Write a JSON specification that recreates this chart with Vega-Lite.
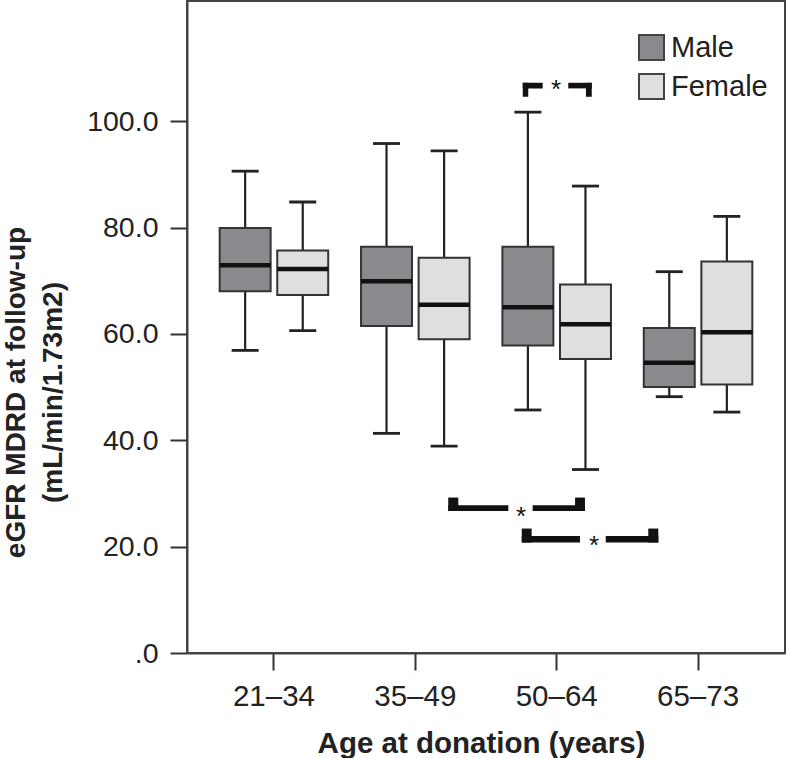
{
  "$schema": "https://vega.github.io/schema/vega-lite/v6.json",
  "width": 598,
  "height": 652,
  "autosize": {"type": "none"},
  "padding": {"left": 187, "top": 1, "right": 2, "bottom": 105},
  "config": {
    "font": "Liberation Sans",
    "view": {"stroke": "#444", "strokeWidth": 2}
  },
  "datasets": {
    "boxes": [
      {"age": "21–34", "sex": "Male", "lo": 56.9, "q1": 68.0, "med": 72.9, "q3": 79.9, "hi": 90.6},
      {"age": "21–34", "sex": "Female", "lo": 60.6, "q1": 67.3, "med": 72.2, "q3": 75.7, "hi": 84.8},
      {"age": "35–49", "sex": "Male", "lo": 41.3, "q1": 61.5, "med": 69.9, "q3": 76.4, "hi": 95.8},
      {"age": "35–49", "sex": "Female", "lo": 38.9, "q1": 59.0, "med": 65.5, "q3": 74.3, "hi": 94.4},
      {"age": "50–64", "sex": "Male", "lo": 45.7, "q1": 57.8, "med": 65.0, "q3": 76.4, "hi": 101.7},
      {"age": "50–64", "sex": "Female", "lo": 34.5, "q1": 55.3, "med": 61.8, "q3": 69.3, "hi": 87.8},
      {"age": "65–73", "sex": "Male", "lo": 48.2, "q1": 50.0, "med": 54.6, "q3": 61.1, "hi": 71.7},
      {"age": "65–73", "sex": "Female", "lo": 45.3, "q1": 50.5, "med": 60.3, "q3": 73.6, "hi": 82.1}
    ],
    "brackets": [
      {"x": 2.760, "x2": 2.901, "y": 107.22, "y2": 106.17},
      {"x": 2.760, "x2": 2.799, "y": 107.22, "y2": 104.59},
      {"x": 3.082, "x2": 3.248, "y": 107.22, "y2": 106.17},
      {"x": 3.207, "x2": 3.248, "y": 107.22, "y2": 104.59},
      {"x": 2.233, "x2": 2.658, "y": 27.78, "y2": 26.71},
      {"x": 2.233, "x2": 2.304, "y": 29.23, "y2": 26.71},
      {"x": 2.830, "x2": 3.200, "y": 27.78, "y2": 26.71},
      {"x": 3.130, "x2": 3.200, "y": 29.23, "y2": 26.71},
      {"x": 2.753, "x2": 3.165, "y": 22.01, "y2": 20.77},
      {"x": 2.753, "x2": 2.823, "y": 23.40, "y2": 20.77},
      {"x": 3.347, "x2": 3.719, "y": 22.01, "y2": 20.77},
      {"x": 3.648, "x2": 3.719, "y": 23.40, "y2": 20.77}
    ],
    "stars": [
      {"x": 2.995, "y": 106.79, "label": "*"},
      {"x": 2.748, "y": 26.52, "label": "*"},
      {"x": 3.264, "y": 21.07, "label": "*"}
    ]
  },
  "layer": [
    {
      "data": {"name": "boxes"},
      "encoding": {
        "x": {
          "field": "age", "type": "nominal", "sort": null,
          "scale": {"paddingInner": 0, "paddingOuter": 0.115},
          "axis": {
            "title": "Age at donation (years)",
            "labelAngle": 0, "labelFontSize": 29.5, "labelColor": "#222",
            "tickSize": 17, "tickWidth": 2, "tickColor": "#333",
            "domainColor": "#444", "domainWidth": 2,
            "labelPadding": 35, "labelBaseline": "alphabetic",
            "titleFontSize": 29.5, "titleFontWeight": "bold", "titleColor": "#222",
            "titleX": 294, "titleY": 99, "titleBaseline": "alphabetic"
          }
        },
        "xOffset": {
          "field": "sex", "type": "nominal", "sort": ["Male", "Female"],
          "scale": {"paddingInner": 0.115, "paddingOuter": 0.285}
        }
      },
      "layer": [
        {
          "mark": {"type": "rule", "color": "#222", "strokeWidth": 2.2, "opacity": 1},
          "encoding": {
            "y": {"field": "lo", "type": "quantitative", "scale": {"domain": [0, 122.6], "nice": false, "zero": false},
              "title": ["eGFR MDRD at follow-up", "(mL/min/1.73m2)"],
              "axis": {"values": [0, 20, 40, 60, 80, 100], "labelExpr": "datum.value == 0 ? '.0' : format(datum.value, '.1f')", "grid": false, "domainColor": "#444", "domainWidth": 2, "tickColor": "#333", "tickWidth": 2, "tickSize": 17, "labelPadding": 12, "labelFontSize": 28.5, "labelColor": "#222", "titleFontSize": 28, "titleFontWeight": "bold", "titleColor": "#222", "titleLineHeight": 37, "titleX": -157, "titleY": 391, "titleAngle": -90, "titleBaseline": "bottom", "titleAlign": "center"}},
            "y2": {"field": "hi"}
          }
        },
        {
          "mark": {"type": "tick", "color": "#222", "thickness": 2.8, "size": 27, "orient": "horizontal", "opacity": 1},
          "encoding": {
            "y": {"field": "hi", "type": "quantitative", "scale": {"domain": [0, 122.6], "nice": false, "zero": false},
              "title": ["eGFR MDRD at follow-up", "(mL/min/1.73m2)"],
              "axis": {"values": [0, 20, 40, 60, 80, 100], "labelExpr": "datum.value == 0 ? '.0' : format(datum.value, '.1f')", "grid": false, "domainColor": "#444", "domainWidth": 2, "tickColor": "#333", "tickWidth": 2, "tickSize": 17, "labelPadding": 12, "labelFontSize": 28.5, "labelColor": "#222", "titleFontSize": 28, "titleFontWeight": "bold", "titleColor": "#222", "titleLineHeight": 37, "titleX": -157, "titleY": 391, "titleAngle": -90, "titleBaseline": "bottom", "titleAlign": "center"}}
          }
        },
        {
          "mark": {"type": "tick", "color": "#222", "thickness": 2.8, "size": 27, "orient": "horizontal", "opacity": 1},
          "encoding": {
            "y": {"field": "lo", "type": "quantitative", "scale": {"domain": [0, 122.6], "nice": false, "zero": false},
              "title": ["eGFR MDRD at follow-up", "(mL/min/1.73m2)"],
              "axis": {"values": [0, 20, 40, 60, 80, 100], "labelExpr": "datum.value == 0 ? '.0' : format(datum.value, '.1f')", "grid": false, "domainColor": "#444", "domainWidth": 2, "tickColor": "#333", "tickWidth": 2, "tickSize": 17, "labelPadding": 12, "labelFontSize": 28.5, "labelColor": "#222", "titleFontSize": 28, "titleFontWeight": "bold", "titleColor": "#222", "titleLineHeight": 37, "titleX": -157, "titleY": 391, "titleAngle": -90, "titleBaseline": "bottom", "titleAlign": "center"}}
          }
        },
        {
          "mark": {"type": "bar", "stroke": "#333", "strokeWidth": 2, "opacity": 1},
          "encoding": {
            "y": {"field": "q1", "type": "quantitative", "scale": {"domain": [0, 122.6], "nice": false, "zero": false},
              "title": ["eGFR MDRD at follow-up", "(mL/min/1.73m2)"],
              "axis": {"values": [0, 20, 40, 60, 80, 100], "labelExpr": "datum.value == 0 ? '.0' : format(datum.value, '.1f')", "grid": false, "domainColor": "#444", "domainWidth": 2, "tickColor": "#333", "tickWidth": 2, "tickSize": 17, "labelPadding": 12, "labelFontSize": 28.5, "labelColor": "#222", "titleFontSize": 28, "titleFontWeight": "bold", "titleColor": "#222", "titleLineHeight": 37, "titleX": -157, "titleY": 391, "titleAngle": -90, "titleBaseline": "bottom", "titleAlign": "center"}},
            "y2": {"field": "q3"},
            "color": {
              "field": "sex", "type": "nominal",
              "scale": {"domain": ["Male", "Female"], "range": ["#8a8a8e", "#dedfe1"]},
              "legend": {
                "orient": "none", "legendX": 450, "legendY": 32, "title": null,
                "symbolType": "square", "symbolSize": 625,
                "symbolStrokeColor": "#444", "symbolStrokeWidth": 2, "symbolOpacity": 1,
                "labelFontSize": 29, "labelColor": "#222", "labelOffset": 5,
                "rowPadding": 6, "padding": 0
              }
            }
          }
        },
        {
          "mark": {"type": "tick", "color": "#111", "thickness": 4.5, "size": 51, "orient": "horizontal", "opacity": 1},
          "encoding": {
            "y": {"field": "med", "type": "quantitative", "scale": {"domain": [0, 122.6], "nice": false, "zero": false},
              "title": ["eGFR MDRD at follow-up", "(mL/min/1.73m2)"],
              "axis": {"values": [0, 20, 40, 60, 80, 100], "labelExpr": "datum.value == 0 ? '.0' : format(datum.value, '.1f')", "grid": false, "domainColor": "#444", "domainWidth": 2, "tickColor": "#333", "tickWidth": 2, "tickSize": 17, "labelPadding": 12, "labelFontSize": 28.5, "labelColor": "#222", "titleFontSize": 28, "titleFontWeight": "bold", "titleColor": "#222", "titleLineHeight": 37, "titleX": -157, "titleY": 391, "titleAngle": -90, "titleBaseline": "bottom", "titleAlign": "center"}}
          }
        }
      ]
    },
    {
      "layer": [
        {
          "data": {"name": "brackets"},
          "mark": {"type": "rect", "color": "#111", "opacity": 1},
          "encoding": {
            "x": {"field": "x", "type": "quantitative", "scale": {"domain": [0.385, 4.615], "nice": false, "zero": false}, "axis": null},
            "x2": {"field": "x2"},
            "y": {"field": "y", "type": "quantitative", "scale": {"domain": [0, 122.6], "nice": false, "zero": false},
              "title": ["eGFR MDRD at follow-up", "(mL/min/1.73m2)"],
              "axis": {"values": [0, 20, 40, 60, 80, 100], "labelExpr": "datum.value == 0 ? '.0' : format(datum.value, '.1f')", "grid": false, "domainColor": "#444", "domainWidth": 2, "tickColor": "#333", "tickWidth": 2, "tickSize": 17, "labelPadding": 12, "labelFontSize": 28.5, "labelColor": "#222", "titleFontSize": 28, "titleFontWeight": "bold", "titleColor": "#222", "titleLineHeight": 37, "titleX": -157, "titleY": 391, "titleAngle": -90, "titleBaseline": "bottom", "titleAlign": "center"}},
            "y2": {"field": "y2"}
          }
        },
        {
          "data": {"name": "stars"},
          "mark": {"type": "text", "color": "#111", "fontSize": 26, "baseline": "middle", "align": "center", "dy": 5},
          "encoding": {
            "x": {"field": "x", "type": "quantitative", "scale": {"domain": [0.385, 4.615], "nice": false, "zero": false}, "axis": null},
            "y": {"field": "y", "type": "quantitative", "scale": {"domain": [0, 122.6], "nice": false, "zero": false},
              "title": ["eGFR MDRD at follow-up", "(mL/min/1.73m2)"],
              "axis": {"values": [0, 20, 40, 60, 80, 100], "labelExpr": "datum.value == 0 ? '.0' : format(datum.value, '.1f')", "grid": false, "domainColor": "#444", "domainWidth": 2, "tickColor": "#333", "tickWidth": 2, "tickSize": 17, "labelPadding": 12, "labelFontSize": 28.5, "labelColor": "#222", "titleFontSize": 28, "titleFontWeight": "bold", "titleColor": "#222", "titleLineHeight": 37, "titleX": -157, "titleY": 391, "titleAngle": -90, "titleBaseline": "bottom", "titleAlign": "center"}},
            "text": {"field": "label"}
          }
        }
      ]
    }
  ],
  "resolve": {"scale": {"x": "independent"}, "axis": {"x": "independent"}}
}
